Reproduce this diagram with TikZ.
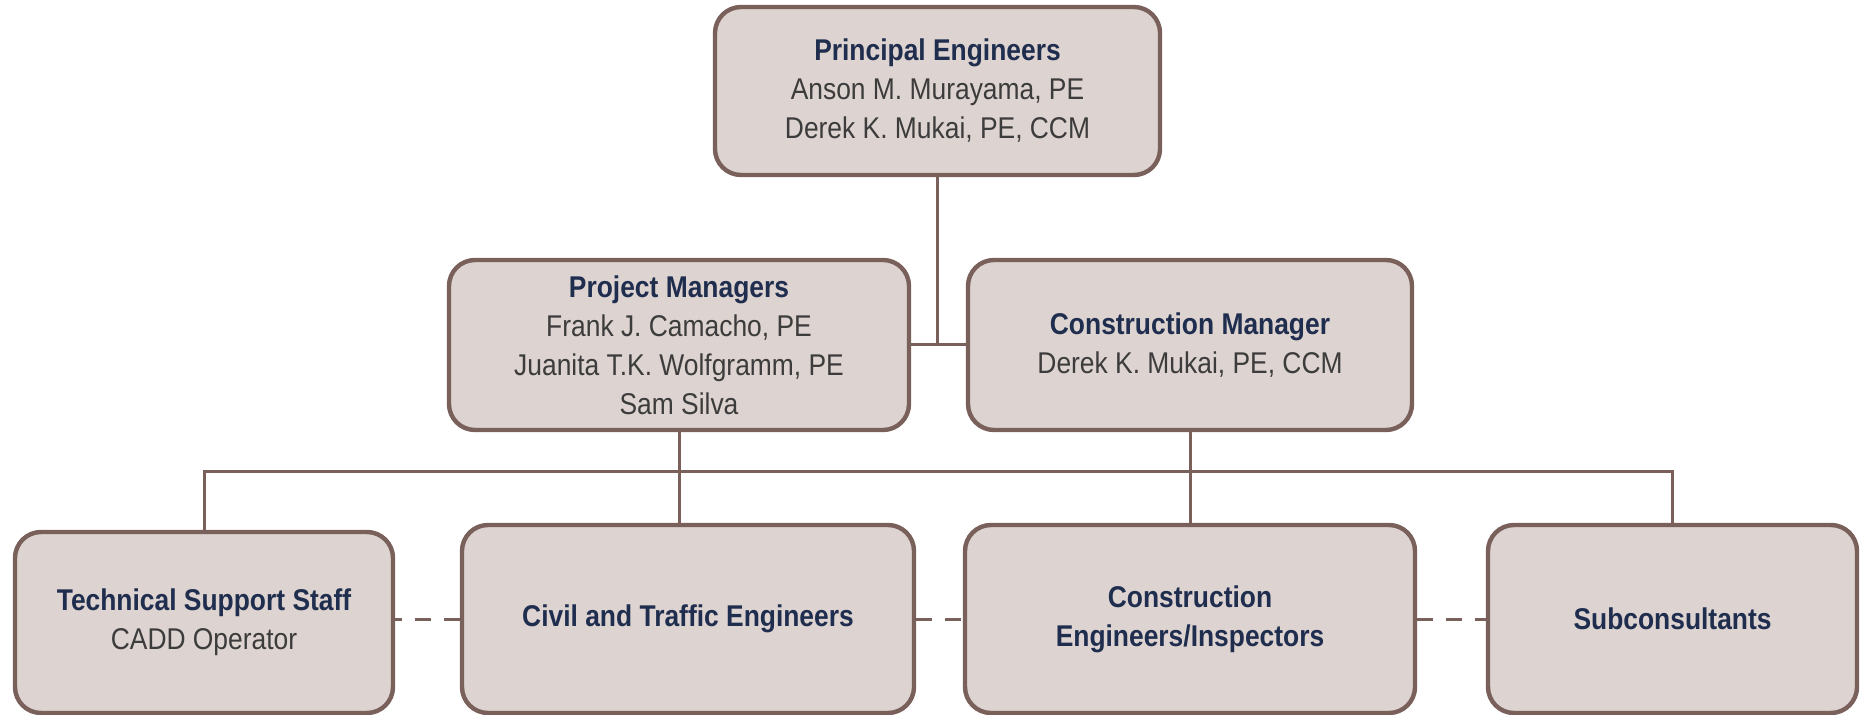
\documentclass[tikz,border=0pt]{standalone}
\usepackage{fontspec}
\setmainfont{Liberation Sans}[FakeStretch=0.88]

\definecolor{cajafondo}{RGB}{221,211,208}
\definecolor{cajaborde}{RGB}{122,96,90}
\definecolor{azultitulo}{RGB}{31,45,78}
\definecolor{gristexto}{RGB}{60,60,60}
\newcommand{\cargo}[1]{{\bfseries\color{azultitulo}#1}}

\begin{document}
\begin{tikzpicture}[x=0.5pt, y=-0.5pt,
    caja/.style={draw=cajaborde, fill=cajafondo, line width=2.2pt, rounded corners=13pt,
        align=center, text=gristexto, inner sep=0pt, font=\fontsize{15}{19.5}\selectfont},
    linea/.style={draw=cajaborde, line width=1.5pt},
    discont/.style={linea, dash pattern=on 8pt off 6.5pt}]
    \useasboundingbox (0,0) rectangle (1862,715);

    % Direccion
    \node[caja, minimum width=222.5pt, minimum height=84pt] (pe) at (937.5,91)
        {\cargo{Principal Engineers}\\Anson M. Murayama, PE\\Derek K. Mukai, PE, CCM};

    % Gerentes
    \node[caja, minimum width=230pt, minimum height=85pt] (pm) at (679,345)
        {\cargo{Project Managers}\\Frank J. Camacho, PE\\Juanita T.K. Wolfgramm, PE\\Sam Silva};
    \node[caja, minimum width=222pt, minimum height=85pt] (cm) at (1190,345)
        {\cargo{Construction Manager}\\Derek K. Mukai, PE, CCM};

    % Personal
    \node[caja, minimum width=189pt, minimum height=90.5pt] (tss) at (204,622.5)
        {\cargo{Technical Support Staff}\\CADD Operator};
    \node[caja, minimum width=226pt, minimum height=94pt] (civ) at (688,619)
        {\cargo{Civil and Traffic Engineers}};
    \node[caja, minimum width=225pt, minimum height=94pt] (ce) at (1190,619)
        {\cargo{Construction}\\\cargo{Engineers/Inspectors}};
    \node[caja, minimum width=184.5pt, minimum height=94pt] (sub) at (1672.5,619)
        {\cargo{Subconsultants}};

    % Lineas
    \coordinate (bus) at (0,472);
    \draw[linea] (pe.south) -- (pe.south |- pm.east);
    \draw[linea] (pm.east) -- (cm.west);
    \draw[linea] (pm.south) -- (pm.south |- civ.north);
    \draw[linea] (cm.south) -- (cm.south |- ce.north);
    \draw[linea] (tss.north) -- (tss.north |- bus) -| (sub.north);

    % Lineas discontinuas
    \draw[discont] (civ.west) -- (civ.west -| tss.east);
    \draw[discont] (civ.east) -- (ce.west);
    \draw[discont] (ce.east) -- (sub.west);
\end{tikzpicture}
\end{document}
